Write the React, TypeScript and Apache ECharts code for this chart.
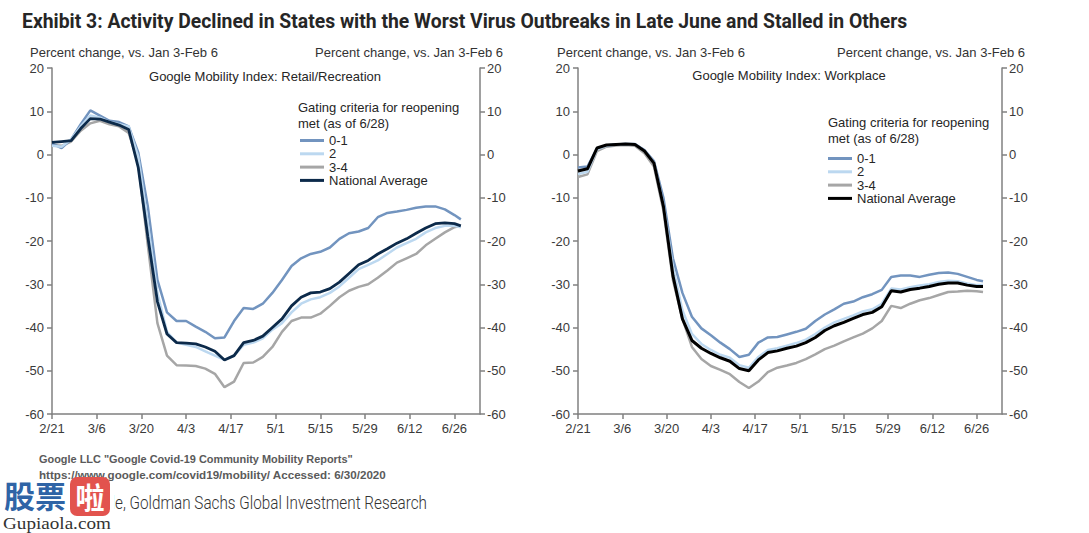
import React, { useEffect, useRef } from "react";
import * as echarts from "echarts";

// ---- data (day index counted from 2/21) ----
const days = [0, 3, 6, 9, 12, 15, 18, 21, 24, 27, 30, 33, 36, 39, 42, 45, 48, 51, 54, 57, 60, 63, 66, 69, 72, 75, 78, 81, 84, 87, 90, 93, 96, 99, 102, 105, 108, 111, 114, 117, 120, 123, 126, 128];
const tickDays = [0, 14, 28, 42, 56, 70, 84, 98, 112, 126];
const tickLabels = ["2/21", "3/6", "3/20", "4/3", "4/17", "5/1", "5/15", "5/29", "6/12", "6/26"];

// Retail / Recreation
const retail01 = [2.5, 1.5, 3.5, 7.0, 10.2, 9.0, 7.8, 7.5, 6.5, 0.5, -12, -29, -36.5, -38.5, -38.5, -39.8, -41, -42.5, -42.3, -38.5, -35.5, -35.7, -34.5, -32, -29, -25.8, -24, -23, -22.5, -21.5, -19.5, -18.2, -17.8, -17, -14.5, -13.5, -13.2, -12.8, -12.3, -12, -12, -12.7, -14, -15];
const retail2 = [2.0, 1.8, 3.5, 6.5, 9.0, 8.5, 7.5, 7.0, 6.5, -0.5, -16, -32, -41, -43.5, -44, -44.5, -45.5, -46.5, -47.5, -46.5, -44, -43.5, -42.5, -40.5, -39, -36.5, -34.5, -33.5, -33, -32, -30.5, -28.5, -26.5, -25.5, -24.5, -23, -21.5, -20.5, -19.5, -18, -17, -16.5, -16.5, -16.8];
const retail34 = [2.2, 2.0, 3.0, 5.5, 7.2, 7.8, 7.0, 6.5, 5.0, -2, -21, -39, -46.5, -48.7, -48.8, -48.9, -49.5, -50.7, -53.8, -52.5, -48.2, -48.1, -46.8, -44.5, -41, -38.5, -37.7, -37.7, -36.8, -35, -33, -31.5, -30.6, -30, -28.5, -26.8, -25, -24, -23, -21, -19.5, -18, -16.8, -16.5];
const retailNat = [2.8, 3.0, 3.2, 6.0, 8.3, 8.2, 7.5, 6.8, 5.8, -3, -19, -34, -41.5, -43.5, -43.6, -43.8, -44.5, -45.5, -47.5, -46.5, -43.5, -43, -42, -40, -38, -35, -33, -32, -31.8, -31, -29.5, -27.5, -25.5, -24.5, -23, -21.8, -20.5, -19.5, -18.2, -17, -16, -15.8, -16, -16.5];

// Workplace
const work01 = [-3.0, -2.8, 1.4, 2.1, 2.3, 2.4, 2.4, 1.0, -1.5, -10, -24, -32, -37.5, -40.2, -41.8, -43.5, -45, -46.8, -46.3, -43.5, -42.3, -42.2, -41.6, -41, -40.3, -38.5, -37, -35.8, -34.5, -34, -33, -32.3, -31.3, -28.3, -28, -28, -28.3, -27.8, -27.4, -27.3, -27.6, -28.3, -29, -29.3];
const work2 = [-4.5, -4.0, 1.2, 2.0, 2.3, 2.4, 2.3, 0.8, -1.8, -11.5, -26, -36, -41.5, -43.8, -45.2, -46.3, -47, -48.7, -49.3, -46.8, -45.2, -44.8, -44.2, -43.6, -42.8, -41.5, -40, -38.8, -38, -37.2, -36.3, -35.8, -34.5, -31, -31.2, -30.7, -30.3, -30, -29.5, -29.2, -29.3, -29.8, -30.2, -30.2];
const work34 = [-5.2, -4.6, 0.8, 1.8, 2.1, 2.2, 2.0, 0.3, -2.8, -13, -29, -38, -44.5, -47.3, -48.9, -49.8, -50.8, -52.6, -54, -52.5, -50.3, -49.3, -48.8, -48.2, -47.3, -46.2, -45, -44.2, -43.2, -42.3, -41.4, -40.2, -38.5, -35, -35.5, -34.5, -33.7, -33.2, -32.5, -31.8, -31.7, -31.5, -31.6, -31.8];
const workNat = [-3.8, -3.3, 1.5, 2.2, 2.3, 2.4, 2.3, 0.8, -2.0, -12, -28, -38, -43, -44.8, -46, -47, -47.8, -49.5, -50, -47.5, -45.8, -45.4, -44.8, -44.3, -43.5, -42.3, -40.7, -39.6, -38.8, -37.9, -37, -36.5, -35.2, -31.5, -31.8, -31.2, -30.9, -30.5, -30, -29.7, -29.7, -30.2, -30.5, -30.5];

// ---- texts ----
const TITLE = "Exhibit 3: Activity Declined in States with the Worst Virus Outbreaks in Late June and Stalled in Others";
const AXIS_NOTE = "Percent change, vs. Jan 3-Feb 6";
const SUB_LEFT = "Google Mobility Index: Retail/Recreation";
const SUB_RIGHT = "Google Mobility Index: Workplace";
const LEG_HEAD1 = "Gating criteria for reopening";
const LEG_HEAD2 = "met (as of 6/28)";
const FOOT1 = 'Google LLC "Google Covid-19 Community Mobility Reports"';
const FOOT2 = "https://www.google.com/covid19/mobility/ Accessed: 6/30/2020";
const SOURCE = "Source: Google, Goldman Sachs Global Investment Research";
const SOURCE_VISIBLE = "e, Goldman Sachs Global Investment Research";
const WM_SITE = "Gupiaola.com";

const SANS = "'Liberation Sans', Arial, sans-serif";
const AXIS_COLOR = "#808080";
const LABEL_COLOR = "#3a3a3a";
const C01 = "#7294bf";
const C2 = "#bcd8f0";
const C34 = "#a6a6a6";
const CNAT_L = "#0c2a4a";
const CNAT_R = "#000000";

function pairs(vals: number[]) {
  return days.map((d, i) => [d, vals[i]]);
}

function measure(text: string, font: string) {
  const ctx = document.createElement("canvas").getContext("2d")!;
  ctx.font = font;
  return ctx.measureText(text).width;
}

function xAxis(gridIndex: number) {
  return {
    type: "value",
    gridIndex,
    min: 0,
    max: 134,
    axisLine: { show: true, onZero: false, lineStyle: { color: AXIS_COLOR, width: 1.5 } },
    axisTick: { show: true, length: 5, customValues: tickDays, lineStyle: { color: AXIS_COLOR, width: 1.5 } },
    axisLabel: {
      customValues: tickDays,
      formatter: (v: number) => {
        const i = tickDays.indexOf(Math.round(v));
        return i >= 0 ? tickLabels[i] : "";
      },
      color: LABEL_COLOR,
      fontSize: 13,
      fontFamily: SANS,
      margin: 8,
    },
    splitLine: { show: false },
  };
}

function yAxis(gridIndex: number, position: "left" | "right") {
  return {
    type: "value",
    gridIndex,
    position,
    min: -60,
    max: 20,
    interval: 10,
    axisLine: { show: true, onZero: false, lineStyle: { color: AXIS_COLOR, width: 1.5 } },
    axisTick: { show: true, length: 5, lineStyle: { color: AXIS_COLOR, width: 1.5 } },
    axisLabel: { color: LABEL_COLOR, fontSize: 13, fontFamily: SANS, margin: position === "left" ? 8 : 7 },
    splitLine: { show: false },
  };
}

function line(name: string, vals: number[], color: string, width: number, xi: number, yi: number, z: number) {
  return {
    name,
    type: "line",
    xAxisIndex: xi,
    yAxisIndex: yi,
    data: pairs(vals),
    symbol: "none",
    showSymbol: false,
    smooth: false,
    z,
    lineStyle: { color, width },
    itemStyle: { color },
  };
}

function txt(text: string, x: number, y: number, extra: any = {}, style: any = {}) {
  return {
    type: "text",
    x,
    y,
    silent: true,
    ...extra,
    style: {
      text,
      fill: "#333333",
      fontSize: 13,
      fontFamily: SANS,
      align: "left",
      verticalAlign: "middle",
      ...style,
    },
  };
}

export default function App() {
  const ref = useRef<HTMLDivElement>(null);

  useEffect(() => {
    if (!ref.current) return;
    const chart = echarts.init(ref.current, null, { renderer: "svg" });

    const titleScale = 886 / measure(TITLE, "bold 21px Roboto");
    const srcScale = 312 / measure(SOURCE_VISIBLE, "300 18px Roboto");
    const f1Scale = 314 / measure(FOOT1, "bold 11px 'Liberation Sans'");
    const f2Scale = 348 / measure(FOOT2, "bold 11px 'Liberation Sans'");
    const wmScale = Math.min(1.35, 108 / measure(WM_SITE, "16px 'Liberation Serif'"));

    const legendCommon = {
      orient: "vertical",
      icon: "rect",
      itemWidth: 24,
      itemHeight: 3,
      itemGap: 0.3,
      padding: 0,
      selectedMode: false,
      textStyle: { fontSize: 13, fontFamily: SANS, color: "#262626", lineHeight: 13 },
    };

    const option: any = {
      animation: false,
      backgroundColor: "#ffffff",
      grid: [
        { left: 52, right: 609, top: 68, bottom: 119 },
        { left: 578, right: 87, top: 68, bottom: 119 },
      ],
      xAxis: [xAxis(0), xAxis(1)],
      yAxis: [yAxis(0, "left"), yAxis(0, "right"), yAxis(1, "left"), yAxis(1, "right")],
      legend: [
        {
          ...legendCommon,
          left: 300,
          top: 134,
          data: ["0-1", "2", "3-4", { name: "National Average", itemStyle: { color: CNAT_L } }],
        },
        {
          ...legendCommon,
          left: 828,
          top: 152,
          data: ["0-1", "2", "3-4", { name: "National Average", itemStyle: { color: CNAT_R } }],
        },
      ],
      series: [
        line("3-4", retail34, C34, 2.5, 0, 0, 2),
        line("0-1", retail01, C01, 2.5, 0, 0, 3),
        line("2", retail2, C2, 2.5, 0, 0, 4),
        line("National Average", retailNat, CNAT_L, 2.8, 0, 0, 5),
        line("3-4", work34, C34, 2.5, 1, 2, 2),
        line("0-1", work01, C01, 2.5, 1, 2, 3),
        line("2", work2, C2, 2.5, 1, 2, 4),
        line("National Average", workNat, CNAT_R, 3, 1, 2, 5),
      ],
      graphic: [
        txt(TITLE, 22, 21, { scaleX: titleScale }, { fontSize: 21, fontWeight: "bold", fontFamily: "Roboto", fill: "#262626" }),
        txt(AXIS_NOTE, 30, 52, {}, { fill: "#333333" }),
        txt(AXIS_NOTE, 503, 52, {}, { align: "right", fill: "#333333" }),
        txt(AXIS_NOTE, 557, 52, {}, { fill: "#333333" }),
        txt(AXIS_NOTE, 1025, 52, {}, { align: "right", fill: "#333333" }),
        txt(SUB_LEFT, 265, 76, {}, { align: "center", fill: "#262626" }),
        txt(SUB_RIGHT, 789, 75, {}, { align: "center", fill: "#262626" }),
        txt(LEG_HEAD1, 298, 107, {}, { fill: "#262626" }),
        txt(LEG_HEAD2, 298, 123, {}, { fill: "#262626" }),
        txt(LEG_HEAD1, 828, 122, {}, { fill: "#262626" }),
        txt(LEG_HEAD2, 828, 138, {}, { fill: "#262626" }),
        txt(FOOT1, 39, 459, { scaleX: f1Scale }, { fontSize: 11, fontWeight: "bold", fill: "#5a5a5a" }),
        txt(FOOT2, 39, 475, { scaleX: f2Scale }, { fontSize: 11, fontWeight: "bold", fill: "#5a5a5a" }),
        txt(SOURCE, 427, 503, { scaleX: srcScale }, { fontSize: 18, fontWeight: 300, fontFamily: "Roboto", align: "right", fill: "#333333" }),
        // watermark
        { type: "rect", silent: true, shape: { x: 0, y: 481, width: 114, height: 52 }, style: { fill: "#ffffff" } },
        txt("股票", 4, 494, {}, { fontSize: 31, fontWeight: "bold", fontFamily: "'Noto Sans CJK SC'", fill: "#2f64a6" }),
        { type: "rect", silent: true, shape: { x: 70, y: 477, width: 40, height: 39, r: 7 }, style: { fill: "#e2534e" } },
        txt("啦", 90, 496, {}, { fontSize: 29, fontWeight: "bold", fontFamily: "'Noto Sans CJK SC'", fill: "#ffffff", align: "center" }),
        txt(WM_SITE, 3, 524, { scaleX: wmScale }, { fontSize: 16, fontFamily: "'Liberation Serif', serif", fill: "#333333" }),
      ],
    };

    chart.setOption(option);
    return () => chart.dispose();
  }, []);

  return (
    <div
      ref={ref}
      style={{ position: "absolute", left: 0, top: 0, width: 1089, height: 533, background: "#ffffff" }}
    />
  );
}
